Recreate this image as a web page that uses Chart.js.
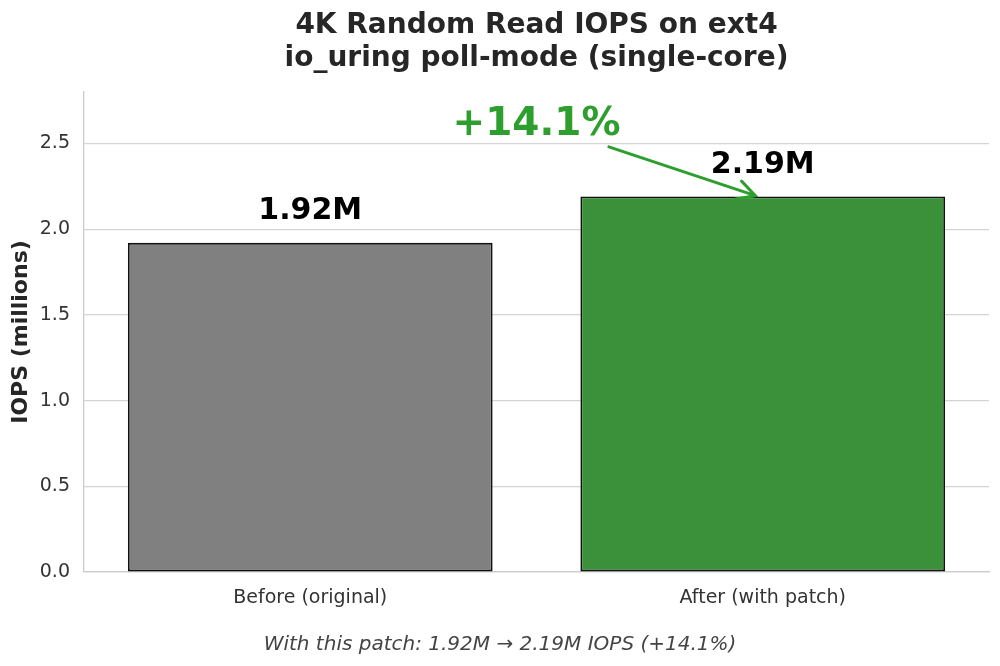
<!DOCTYPE html>
<html><head><meta charset="utf-8">
<script src="https://cdn.jsdelivr.net/npm/chart.js@4.4.1/dist/chart.umd.min.js"></script>
<style>html,body{margin:0;padding:0;background:#fff}canvas{display:block}</style>
</head><body>
<canvas id="c" width="1000" height="666"></canvas>
<script>
const categories = ['Before (original)', 'After (with patch)'];
const iops = [1.92, 2.19];
const barColors = ['#808080', '#3a9139'];
const yTickValues = [0, 0.5, 1.0, 1.5, 2.0, 2.5];
const titleLines = ['4K Random Read IOPS on ext4', 'io_uring poll-mode (single-core)'];
const yAxisTitle = 'IOPS (millions)';

const FONT = "'DejaVu Sans', sans-serif";
const pct = ((iops[1] / iops[0] - 1) * 100).toFixed(1);
const fmtM = v => v.toFixed(2) + 'M';
const footer = `With this patch: ${fmtM(iops[0])} \u2192 ${fmtM(iops[1])} IOPS (+${pct}%)`;

const annot = {
  id: 'annot',
  afterDraw(chart) {
    const {ctx, chartArea, scales: {x, y}} = chart;
    ctx.save();
    ctx.textAlign = 'center';
    ctx.textBaseline = 'alphabetic';
    // title
    const cx = (chartArea.left + chartArea.right) / 2;
    ctx.fillStyle = '#262626';
    ctx.font = `bold 28px ${FONT}`;
    ctx.fillText(titleLines[0], cx, 33);
    ctx.fillText(titleLines[1], cx, 66);
    // value labels
    ctx.fillStyle = '#000';
    ctx.font = `bold 30px ${FONT}`;
    iops.forEach((v, i) => {
      ctx.fillText(fmtM(v), x.getPixelForValue(i), y.getPixelForValue(v) - 24);
    });
    // percent label
    const green = '#2e9e2e';
    ctx.fillStyle = green;
    ctx.font = `bold 39px ${FONT}`;
    ctx.fillText(`+${pct}%`, x.getPixelForValue(0.5), y.getPixelForValue(2.55));
    // arrow
    const x0 = x.getPixelForValue(0.66), y0 = y.getPixelForValue(2.48);
    let x1 = x.getPixelForValue(0.99), y1 = y.getPixelForValue(iops[1]);
    const ang = Math.atan2(y1 - y0, x1 - x0);
    x1 -= 3 * Math.cos(ang); y1 -= 3 * Math.sin(ang);
    ctx.strokeStyle = green;
    ctx.lineWidth = 3;
    ctx.lineCap = 'round';
    ctx.beginPath();
    ctx.moveTo(x0, y0); ctx.lineTo(x1, y1);
    const hl = 20, ha = 28 * Math.PI / 180;
    ctx.moveTo(x1 - hl * Math.cos(ang - ha), y1 - hl * Math.sin(ang - ha));
    ctx.lineTo(x1, y1);
    ctx.lineTo(x1 - hl * Math.cos(ang + ha), y1 - hl * Math.sin(ang + ha));
    ctx.stroke();
    // footer
    ctx.fillStyle = '#444';
    ctx.font = `italic 20px ${FONT}`;
    ctx.fillText(footer, chart.width / 2, 650);
    ctx.restore();
  }
};

new Chart(document.getElementById('c'), {
  type: 'bar',
  data: {
    labels: categories,
    datasets: [{
      data: iops,
      backgroundColor: barColors,
      borderColor: '#111111',
      borderWidth: 1.8,
      borderSkipped: false,
      barPercentage: 0.806,
      categoryPercentage: 1.0
    }]
  },
  options: {
    responsive: false,
    animation: false,
    devicePixelRatio: 1,
    layout: {padding: {top: 92, right: 11, left: 0, bottom: 0}},
    plugins: {legend: {display: false}, tooltip: {enabled: false}, title: {display: false}},
    scales: {
      x: {
        grid: {display: false, drawTicks: false},
        border: {display: true, color: '#cccccc', width: 1.3},
        ticks: {font: {family: FONT, size: 19}, color: '#333', padding: 15},
        afterFit(s) { s.height = 94; }
      },
      y: {
        min: 0, max: 2.8,
        grid: {color: '#d4d4d4', lineWidth: 1.2, drawTicks: false},
        border: {display: true, color: '#cccccc', width: 1.3},
        afterBuildTicks(s) { s.ticks = yTickValues.map(v => ({value: v})); },
        ticks: {font: {family: FONT, size: 19}, color: '#333', padding: 14,
                callback: v => Number(v).toFixed(1)},
        title: {display: true, text: yAxisTitle, color: '#262626',
                font: {family: FONT, size: 22, weight: 'bold'}, padding: {top: 8, bottom: 0}},
        afterFit(s) { s.width = 84; }
      }
    }
  },
  plugins: [annot]
});
</script>
</body></html>
